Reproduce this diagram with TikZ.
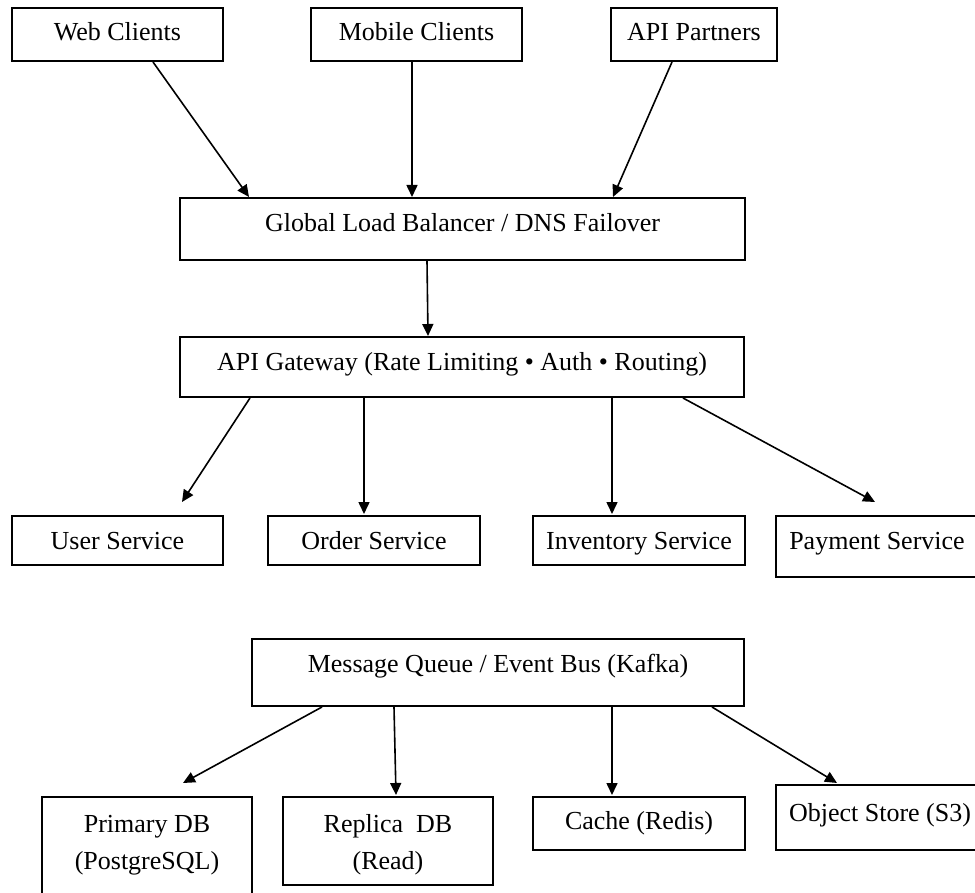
\documentclass[tikz,border=0pt]{standalone}
\usepackage{fontspec}
\setmainfont{Liberation Serif}
\usetikzlibrary{calc,arrows.meta}
\begin{document}
\begin{tikzpicture}[x=0.5pt,y=-0.5pt,
  box/.style={draw=black, line width=1pt, fill=white, inner sep=0pt,
    font=\fontsize{13}{18.5}\selectfont, text depth=0pt},
  conn/.style={line width=0.8pt, -{Triangle[length=6pt,width=5.5pt]}}]
\useasboundingbox (0,0) rectangle (975,893);
\clip (0,0) rectangle (975,893);
\fill[white] (0,0) rectangle (975,893);
% top row
\node[box, minimum width=105.5pt, minimum height=26.5pt, text height=6.5pt] (web) at (117.5,34.5) {Web Clients};
\node[box, minimum width=105.5pt, minimum height=26.5pt, text height=6.5pt] (mob) at (416.5,34.5) {Mobile Clients};
\node[box, minimum width=83pt, minimum height=26.5pt, text height=6.5pt] (api) at (694,34.5) {API Partners};
% load balancer and gateway
\node[box, minimum width=282.5pt, minimum height=31pt, text height=3pt] (lb) at (462.5,229) {Global Load Balancer / DNS Failover};
\node[box, minimum width=282pt, minimum height=30pt, text height=4pt] (gw) at (462,367) {API Gateway (Rate Limiting • Auth • Routing)};
% services
\node[box, minimum width=105.5pt, minimum height=24.5pt, text height=8.5pt] (user) at (117.5,540.5) {User Service};
\node[box, minimum width=106pt, minimum height=24.5pt, text height=8.5pt] (order) at (374,540.5) {Order Service};
\node[box, minimum width=106pt, minimum height=24.5pt, text height=8.5pt] (inv) at (639,540.5) {Inventory Service};
\node[box, minimum width=101pt, minimum height=30.5pt, text height=2.5pt] (pay) at (877,546.5) {Payment Service};
% message queue
\node[box, minimum width=246pt, minimum height=33.5pt, text height=0pt, text depth=0.5pt] (mq) at (498,672.5) {Message Queue / Event Bus (Kafka)};
% storage
\node[box, minimum width=105pt, minimum height=54pt, text height=0pt, text depth=19pt] (prim) at (147,851)
  {\begin{tabular}[t]{@{}c@{}}Primary DB\\(PostgreSQL)\end{tabular}};
\node[box, minimum width=105pt, minimum height=44pt, text height=0pt, text depth=9pt] (rep) at (388,841)
  {\begin{tabular}[t]{@{}c@{}}Replica~\ DB\\(Read)\end{tabular}};
\node[box, minimum width=106pt, minimum height=26.5pt, text height=5.5pt] (cache) at (639,823.5) {Cache (Redis)};
\node[box, minimum width=104pt, minimum height=32.5pt, text height=3.5pt] (obj) at (880,817.5) {Object Store (S3)};
% connectors
\draw[conn] ($(web.south)+(35.5,0)$) -- ($(lb.north)+(-213.5,0)$);
\draw[conn] ($(mob.south)+(-4.5,0)$) -- ($(lb.north)+(-50.5,0)$);
\draw[conn] ($(api.south)+(-22,0)$) -- ($(lb.north)+(150.5,0)$);
\draw[conn] ($(lb.south)+(-35.5,0)$) -- ($(gw.north)+(-34,0)$);
\draw[conn] ($(gw.south)+(-212,0)$) -- ($(user.north)+(64.5,-13)$);
\draw[conn] ($(gw.south)+(-98,0)$) -- ($(order.north)+(-10,-1)$);
\draw[conn] ($(gw.south)+(150,0)$) -- ($(inv.north)+(-27,-1)$);
\draw[conn] ($(gw.south)+(221,0)$) -- ($(pay.north)+(-2,-13)$);
\draw[conn] ($(mq.south)+(-176,0)$) -- ($(prim.north)+(36,-13)$);
\draw[conn] ($(mq.south)+(-104,0)$) -- ($(rep.north)+(8,-1)$);
\draw[conn] ($(mq.south)+(114,0)$) -- ($(cache.north)+(-27,-1)$);
\draw[conn] ($(mq.south)+(214,0)$) -- ($(obj.north)+(-43,-1)$);
\end{tikzpicture}
\end{document}
